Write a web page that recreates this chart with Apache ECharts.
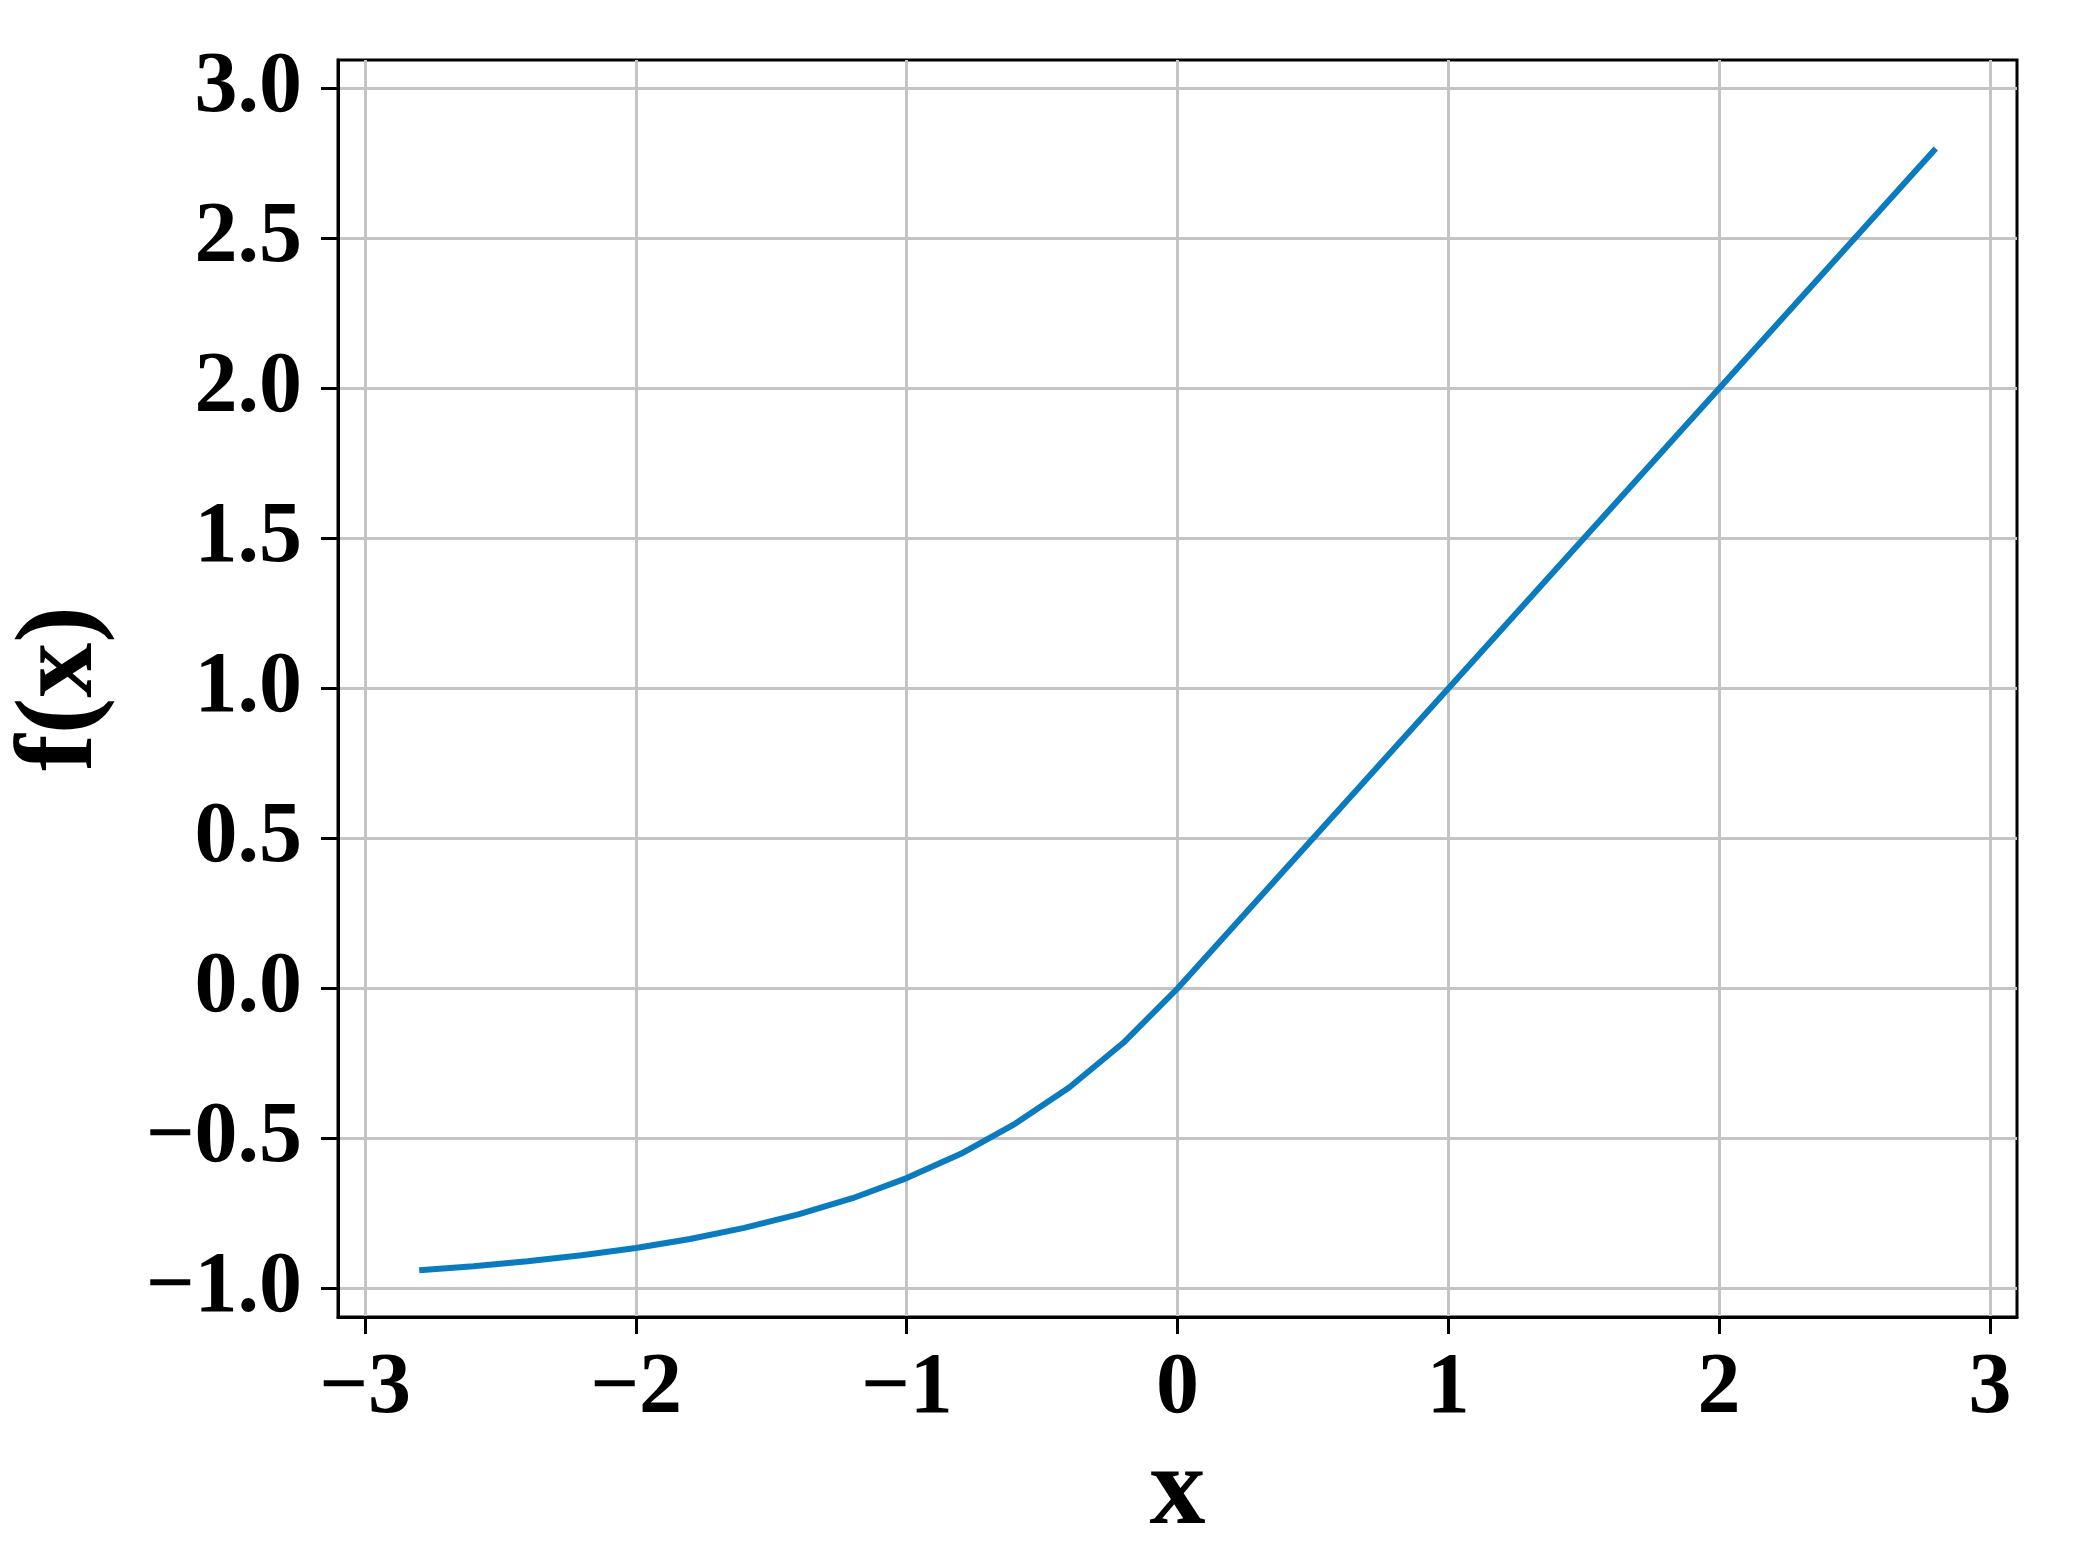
<!DOCTYPE html>
<html>
<head>
<meta charset="utf-8">
<script src="https://cdn.jsdelivr.net/npm/echarts@6/dist/echarts.min.js"></script>
<style>
  html, body { margin: 0; padding: 0; background: #fff; }
  #chart { width: 2076px; height: 1567px; }
</style>
</head>
<body>
<div id="chart"></div>
<script>
// curve samples
const xs = [-2.8, -2.6, -2.4, -2.2, -2.0, -1.8, -1.6, -1.4, -1.2, -1.0, -0.8, -0.6, -0.4, -0.2,
  0, 0.2, 0.4, 0.6, 0.8, 1.0, 1.2, 1.4, 1.6, 1.8, 2.0, 2.2, 2.4, 2.6, 2.8];
const ys = [-0.939, -0.926, -0.909, -0.889, -0.865, -0.835, -0.798, -0.753, -0.699, -0.632, -0.551, -0.451, -0.330, -0.181,
  0, 0.2, 0.4, 0.6, 0.8, 1.0, 1.2, 1.4, 1.6, 1.8, 2.0, 2.2, 2.4, 2.6, 2.8];

const xTicks = [-3, -2, -1, 0, 1, 2, 3];
const yTicks = [-1.0, -0.5, 0.0, 0.5, 1.0, 1.5, 2.0, 2.5, 3.0];

const chart = echarts.init(document.getElementById('chart'));

const FONT = 'Liberation Serif';
const minus = (s) => s.replace('-', '\u2212');

const options = {
  animation: false,
  grid: {
    left: 333, right: 59, top: 60, bottom: 250,
    show: true, borderColor: '#000', borderWidth: 3, backgroundColor: 'transparent'
  },
  xAxis: {
    type: 'value',
    min: -3.1, max: 3.1,
    name: 'x',
    nameLocation: 'middle',
    nameGap: 108,
    nameTextStyle: { fontFamily: FONT, fontWeight: 'bold', fontSize: 112, color: '#000' },
    axisLine: { show: true, onZero: false, lineStyle: { color: '#000', width: 3 } },
    axisTick: { show: true, length: 17, customValues: xTicks, lineStyle: { color: '#000', width: 3 } },
    axisLabel: {
      customValues: xTicks, margin: 30,
      fontFamily: FONT, fontWeight: 'bold', fontSize: 86, color: '#000',
      formatter: (v) => minus(String(v))
    },
    splitLine: { show: true, lineStyle: { color: '#c4c4c4', width: 3 } }
  },
  yAxis: {
    type: 'value',
    min: -1.095, max: 3.095,
    name: 'f(x)',
    nameLocation: 'middle',
    nameRotate: 90,
    nameGap: 220,
    nameTextStyle: { fontFamily: FONT, fontWeight: 'bold', fontSize: 110, color: '#000' },
    axisLine: { show: true, onZero: false, lineStyle: { color: '#000', width: 3 } },
    axisTick: { show: true, length: 17, customValues: yTicks, lineStyle: { color: '#000', width: 3 } },
    axisLabel: {
      customValues: yTicks, margin: 36,
      fontFamily: FONT, fontWeight: 'bold', fontSize: 86, color: '#000',
      formatter: (v) => minus(v.toFixed(1))
    },
    splitLine: { show: true, lineStyle: { color: '#c4c4c4', width: 3 } }
  },
  series: [
    {
      type: 'line',
      data: xs.map((x, i) => [x, ys[i]]),
      showSymbol: false,
      lineStyle: { color: '#0a7bbf', width: 6 },
      z: 5
    }
  ]
};

chart.setOption(options);
</script>
</body>
</html>
